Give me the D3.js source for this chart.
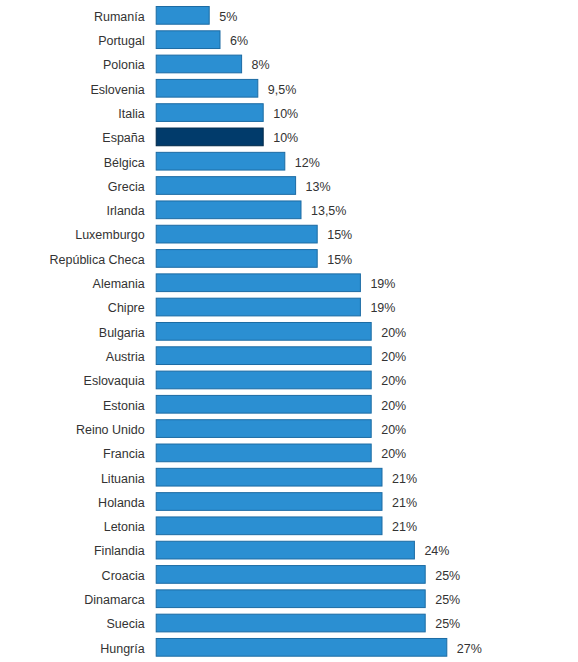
<!DOCTYPE html>
<html>
<head>
<meta charset="utf-8">
<script src="https://cdn.jsdelivr.net/npm/d3@7"></script>
<style>
  body { margin: 0; background: #fff; }
  text { font-family: Arial, "Liberation Sans", sans-serif; font-size: 12.5px; fill: #333; }
</style>
</head>
<body>
<div id="wrapper"></div>
<script>
// Data
const countries = ["Rumanía", "Portugal", "Polonia", "Eslovenia", "Italia", "España", "Bélgica", "Grecia",
    "Irlanda", "Luxemburgo", "República Checa", "Alemania", "Chipre", "Bulgaria", "Austria", "Eslovaquia",
    "Estonia", "Reino Unido", "Francia", "Lituania", "Holanda", "Letonia", "Finlandia", "Croacia",
    "Dinamarca", "Suecia", "Hungría"];
const values = [5, 6, 8, 9.5, 10, 10, 12, 13, 13.5, 15, 15, 19, 19, 20, 20, 20, 20, 20, 20, 21, 21, 21,
    24, 25, 25, 25, 27];
const highlight = "España";

const data = countries.map((c, i) => ({ country: c, value: values[i] }));

const dimension = {
    width: 578,
    height: 662,
    margin: { top: 6, right: 130.7, bottom: 5.3, left: 155.7 },
};
dimension.boundedWidth = dimension.width - dimension.margin.left - dimension.margin.right;
dimension.boundedHeight = dimension.height - dimension.margin.top - dimension.margin.bottom;

const wrapper = d3.select("#wrapper")
    .append("svg")
    .attr("width", dimension.width)
    .attr("height", dimension.height);

const bounds = wrapper.append("g")
    .attr("transform", `translate(${dimension.margin.left},${dimension.margin.top})`);

// Scales
const xScaler = d3.scaleLinear()
    .domain([0, 27])
    .range([0, dimension.boundedWidth]);

const yScaler = d3.scaleBand()
    .domain(countries)
    .range([0, dimension.boundedHeight])
    .paddingInner(0.23)
    .paddingOuter(0);

// Bars
bounds.selectAll("rect")
    .data(data)
    .join("rect")
    .attr("x", 0.5)
    .attr("y", d => yScaler(d.country) + 0.5)
    .attr("width", d => xScaler(d.value) - 1)
    .attr("height", yScaler.bandwidth() - 1)
    .attr("fill", d => d.country === highlight ? "#013b6b" : "#2b8fd2")
    .attr("stroke", d => d.country === highlight ? "#002849" : "#1c6ba3")
    .attr("stroke-width", 1);

// Category labels
const yAxis = bounds.append("g")
    .attr("transform", "translate(-11,0)")
    .call(d3.axisLeft(yScaler).tickSize(0).tickPadding(0));
yAxis.select(".domain").remove();
yAxis.selectAll("text")
    .attr("dy", "0.43em")
    .attr("font-family", null)
    .attr("font-size", null)
    .attr("fill", null);

// Value labels
const fmt = v => String(v).replace(".", ",") + "%";
bounds.selectAll(".value")
    .data(data)
    .join("text")
    .attr("class", "value")
    .attr("x", d => xScaler(d.value) + 9.5)
    .attr("y", d => yScaler(d.country) + yScaler.bandwidth() / 2)
    .attr("dy", "0.43em")
    .text(d => fmt(d.value));
</script>
</body>
</html>
